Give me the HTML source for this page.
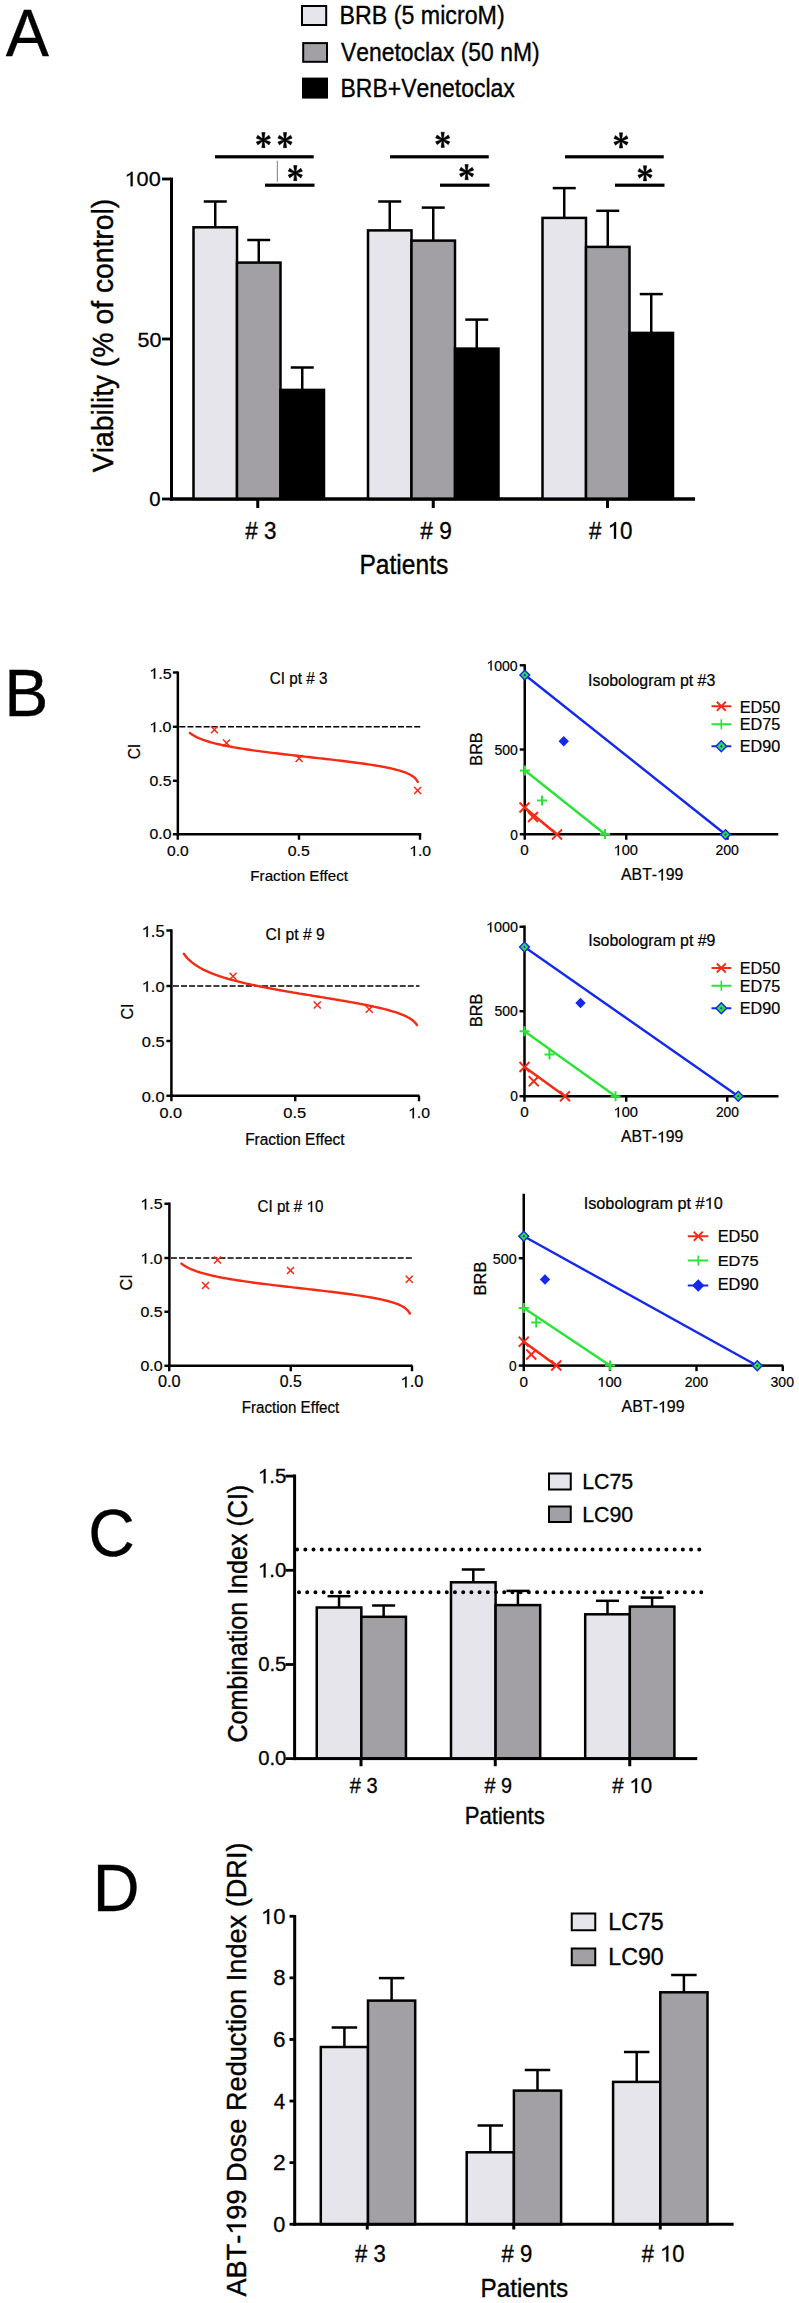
<!DOCTYPE html>
<html><head><meta charset="utf-8"><style>html,body{margin:0;padding:0;background:#fff;width:799px;height:2303px;overflow:hidden}svg{display:block}text{font-family:"Liberation Sans",sans-serif;font-kerning:none;font-feature-settings:"kern" 0;white-space:pre;paint-order:stroke}</style></head><body>
<svg width="799" height="2303" viewBox="0 0 799 2303">
<rect width="799" height="2303" fill="#fff"/>
<text transform="translate(5.77 55.85) scale(0.9594 1)" font-size="67.516" fill="#000" stroke="#000" stroke-width="0.300">A</text>
<rect x="302" y="6" width="24.2" height="19" fill="#E7E5EC" stroke="#000" stroke-width="2"/>
<rect x="303.2" y="43.1" width="23.8" height="18.7" fill="#A2A0A5" stroke="#000" stroke-width="2"/>
<rect x="303" y="78.6" width="24" height="19" fill="#000" stroke="#000" stroke-width="2"/>
<text transform="translate(339.57 23.92) scale(0.9216 1)" font-size="25.204" fill="#000" stroke="#000" stroke-width="0.353">BRB (5 microM)</text>
<text transform="translate(341.03 60.82) scale(0.9140 1)" font-size="25.061" fill="#000" stroke="#000" stroke-width="0.351">Venetoclax (50 nM)</text>
<text transform="translate(340.49 96.82) scale(0.9118 1)" font-size="25.204" fill="#000" stroke="#000" stroke-width="0.353">BRB+Venetoclax</text>
<rect x="170" y="177.6" width="3" height="322.9" fill="#000"/>
<rect x="170" y="497.5" width="525" height="3" fill="#000"/>
<rect x="162" y="177.6" width="9" height="2.8" fill="#000"/>
<rect x="162" y="337.6" width="9" height="2.8" fill="#000"/>
<rect x="162" y="497.6" width="9" height="2.8" fill="#000"/>
<rect x="256.25" y="499" width="3" height="9" fill="#000"/>
<rect x="431.75" y="499" width="3" height="9" fill="#000"/>
<rect x="606" y="499" width="3" height="9" fill="#000"/>
<path transform="translate(124.54 186.15) scale(1.0437 1) translate(0 0) scale(20.767 -20.767)" d="M.373 0L.373 .688L.315 .688C.29 .63 .2 .585 .109 .541L.109 .459C.17 .49 .24 .525 .283 .568L.283 0Z" fill="#000" stroke="#000" stroke-width="0.0140"/>
<text transform="translate(124.54 186.15) scale(1.0437 1)" font-size="20.767" fill="#000" stroke="#000" stroke-width="0.291"> 00</text>
<text transform="translate(137.59 346.85) scale(1.0348 1)" font-size="20.767" fill="#000" stroke="#000" stroke-width="0.291">50</text>
<text transform="translate(149.35 505.91) scale(1.0122 1)" font-size="20.075" fill="#000" stroke="#000" stroke-width="0.281">0</text>
<text transform="translate(245.37 538.69) scale(0.9245 1)" font-size="24.228" fill="#000" stroke="#000" stroke-width="0.339"># 3</text>
<text transform="translate(420.37 538.69) scale(0.9361 1)" font-size="24.228" fill="#000" stroke="#000" stroke-width="0.339"># 9</text>
<path transform="translate(588.97 538.69) scale(0.9252 1) translate(20.21 0) scale(24.228 -24.228)" d="M.373 0L.373 .688L.315 .688C.29 .63 .2 .585 .109 .541L.109 .459C.17 .49 .24 .525 .283 .568L.283 0Z" fill="#000" stroke="#000" stroke-width="0.0140"/>
<text transform="translate(588.97 538.69) scale(0.9252 1)" font-size="24.228" fill="#000" stroke="#000" stroke-width="0.339">#  0</text>
<text transform="translate(359.47 574.21) scale(0.9183 1)" font-size="26.770" fill="#000" stroke="#000" stroke-width="0.375">Patients</text>
<text transform="translate(113 472.17) rotate(-90) scale(0.9621 1)" font-size="29.395" fill="#000" stroke="#000" stroke-width="0.400">Viability (% of control)</text>
<line x1="215.25" y1="227.3" x2="215.25" y2="201.5" stroke="#000" stroke-width="2.5"/>
<line x1="203.75" y1="201.5" x2="226.75" y2="201.5" stroke="#000" stroke-width="2.5"/>
<line x1="258.75" y1="262.6" x2="258.75" y2="240" stroke="#000" stroke-width="2.5"/>
<line x1="247.25" y1="240" x2="270.25" y2="240" stroke="#000" stroke-width="2.5"/>
<line x1="302.25" y1="389.9" x2="302.25" y2="367.5" stroke="#000" stroke-width="2.5"/>
<line x1="290.75" y1="367.5" x2="313.75" y2="367.5" stroke="#000" stroke-width="2.5"/>
<rect x="193.5" y="227.3" width="43.5" height="271.7" fill="#E7E5EC" stroke="#000" stroke-width="2.5"/>
<rect x="237" y="262.6" width="43.5" height="236.4" fill="#A2A0A5" stroke="#000" stroke-width="2.5"/>
<rect x="280.5" y="389.9" width="43.5" height="109.1" fill="#000" stroke="#000" stroke-width="2.5"/>
<line x1="389.75" y1="230.4" x2="389.75" y2="201.5" stroke="#000" stroke-width="2.5"/>
<line x1="378.25" y1="201.5" x2="401.25" y2="201.5" stroke="#000" stroke-width="2.5"/>
<line x1="433.25" y1="240.6" x2="433.25" y2="207.6" stroke="#000" stroke-width="2.5"/>
<line x1="421.75" y1="207.6" x2="444.75" y2="207.6" stroke="#000" stroke-width="2.5"/>
<line x1="476.75" y1="348.6" x2="476.75" y2="319.6" stroke="#000" stroke-width="2.5"/>
<line x1="465.25" y1="319.6" x2="488.25" y2="319.6" stroke="#000" stroke-width="2.5"/>
<rect x="368" y="230.4" width="43.5" height="268.6" fill="#E7E5EC" stroke="#000" stroke-width="2.5"/>
<rect x="411.5" y="240.6" width="43.5" height="258.4" fill="#A2A0A5" stroke="#000" stroke-width="2.5"/>
<rect x="455" y="348.6" width="43.5" height="150.4" fill="#000" stroke="#000" stroke-width="2.5"/>
<line x1="564.25" y1="217.9" x2="564.25" y2="188.1" stroke="#000" stroke-width="2.5"/>
<line x1="552.75" y1="188.1" x2="575.75" y2="188.1" stroke="#000" stroke-width="2.5"/>
<line x1="607.75" y1="246.9" x2="607.75" y2="210.8" stroke="#000" stroke-width="2.5"/>
<line x1="596.25" y1="210.8" x2="619.25" y2="210.8" stroke="#000" stroke-width="2.5"/>
<line x1="651.25" y1="332.9" x2="651.25" y2="294.1" stroke="#000" stroke-width="2.5"/>
<line x1="639.75" y1="294.1" x2="662.75" y2="294.1" stroke="#000" stroke-width="2.5"/>
<rect x="542.5" y="217.9" width="43.5" height="281.1" fill="#E7E5EC" stroke="#000" stroke-width="2.5"/>
<rect x="586" y="246.9" width="43.5" height="252.1" fill="#A2A0A5" stroke="#000" stroke-width="2.5"/>
<rect x="629.5" y="332.9" width="43.5" height="166.1" fill="#000" stroke="#000" stroke-width="2.5"/>
<rect x="170" y="497.5" width="525" height="3" fill="#000"/>
<rect x="215" y="155.2" width="98.75" height="3.2" fill="#000"/>
<rect x="265" y="183.6" width="49.5" height="3.2" fill="#000"/>
<rect x="390" y="155.2" width="98.75" height="3.2" fill="#000"/>
<rect x="440" y="183.6" width="49.5" height="3.2" fill="#000"/>
<rect x="565" y="155.2" width="98.75" height="3.2" fill="#000"/>
<rect x="615" y="183.6" width="49.5" height="3.2" fill="#000"/>
<rect x="276.8" y="160.7" width="1.1" height="21" fill="#8a8a8a"/>
<path d="M263.95 140.10 L265.05 132.50 L261.75 132.50 L262.85 140.10ZM262.85 140.10 L261.75 147.70 L265.05 147.70 L263.95 140.10ZM263.66 140.59 L270.53 138.18 L268.98 135.26 L263.14 139.61ZM263.14 140.59 L268.98 144.94 L270.53 142.02 L263.66 139.61ZM263.66 139.61 L257.82 135.26 L256.27 138.18 L263.14 140.59ZM263.14 139.61 L256.27 142.02 L257.82 144.94 L263.66 140.59Z" stroke="#000" stroke-width="0.5" fill="#000" stroke-linejoin="round"/>
<path d="M285.55 140.10 L286.65 132.50 L283.35 132.50 L284.45 140.10ZM284.45 140.10 L283.35 147.70 L286.65 147.70 L285.55 140.10ZM285.26 140.59 L292.13 138.18 L290.58 135.26 L284.74 139.61ZM284.74 140.59 L290.58 144.94 L292.13 142.02 L285.26 139.61ZM285.26 139.61 L279.42 135.26 L277.87 138.18 L284.74 140.59ZM284.74 139.61 L277.87 142.02 L279.42 144.94 L285.26 140.59Z" stroke="#000" stroke-width="0.5" fill="#000" stroke-linejoin="round"/>
<path d="M295.85 173.10 L296.95 165.50 L293.65 165.50 L294.75 173.10ZM294.75 173.10 L293.65 180.70 L296.95 180.70 L295.85 173.10ZM295.56 173.59 L302.43 171.18 L300.88 168.26 L295.04 172.61ZM295.04 173.59 L300.88 177.94 L302.43 175.02 L295.56 172.61ZM295.56 172.61 L289.72 168.26 L288.17 171.18 L295.04 173.59ZM295.04 172.61 L288.17 175.02 L289.72 177.94 L295.56 173.59Z" stroke="#000" stroke-width="0.5" fill="#000" stroke-linejoin="round"/>
<path d="M443.25 139.80 L444.35 132.20 L441.05 132.20 L442.15 139.80ZM442.15 139.80 L441.05 147.40 L444.35 147.40 L443.25 139.80ZM442.96 140.29 L449.83 137.88 L448.28 134.96 L442.44 139.31ZM442.44 140.29 L448.28 144.64 L449.83 141.72 L442.96 139.31ZM442.96 139.31 L437.12 134.96 L435.57 137.88 L442.44 140.29ZM442.44 139.31 L435.57 141.72 L437.12 144.64 L442.96 140.29Z" stroke="#000" stroke-width="0.5" fill="#000" stroke-linejoin="round"/>
<path d="M467.15 172.10 L468.25 164.50 L464.95 164.50 L466.05 172.10ZM466.05 172.10 L464.95 179.70 L468.25 179.70 L467.15 172.10ZM466.86 172.59 L473.73 170.18 L472.18 167.26 L466.34 171.61ZM466.34 172.59 L472.18 176.94 L473.73 174.02 L466.86 171.61ZM466.86 171.61 L461.02 167.26 L459.47 170.18 L466.34 172.59ZM466.34 171.61 L459.47 174.02 L461.02 176.94 L466.86 172.59Z" stroke="#000" stroke-width="0.5" fill="#000" stroke-linejoin="round"/>
<path d="M621.55 140.40 L622.65 132.80 L619.35 132.80 L620.45 140.40ZM620.45 140.40 L619.35 148.00 L622.65 148.00 L621.55 140.40ZM621.26 140.89 L628.13 138.48 L626.58 135.56 L620.74 139.91ZM620.74 140.89 L626.58 145.24 L628.13 142.32 L621.26 139.91ZM621.26 139.91 L615.42 135.56 L613.87 138.48 L620.74 140.89ZM620.74 139.91 L613.87 142.32 L615.42 145.24 L621.26 140.89Z" stroke="#000" stroke-width="0.5" fill="#000" stroke-linejoin="round"/>
<path d="M645.55 173.30 L646.65 165.70 L643.35 165.70 L644.45 173.30ZM644.45 173.30 L643.35 180.90 L646.65 180.90 L645.55 173.30ZM645.26 173.79 L652.13 171.38 L650.58 168.46 L644.74 172.81ZM644.74 173.79 L650.58 178.14 L652.13 175.22 L645.26 172.81ZM645.26 172.81 L639.42 168.46 L637.87 171.38 L644.74 173.79ZM644.74 172.81 L637.87 175.22 L639.42 178.14 L645.26 173.79Z" stroke="#000" stroke-width="0.5" fill="#000" stroke-linejoin="round"/>
<text transform="translate(4.22 715.75) scale(0.9913 1)" font-size="66.716" fill="#000" stroke="#000" stroke-width="0.300">B</text>
<rect x="176.6" y="671.5" width="2.5" height="164" fill="#000"/>
<rect x="176.6" y="833" width="244.65" height="2.5" fill="#000"/>
<rect x="172.85" y="671.3" width="5" height="2.4" fill="#000"/>
<rect x="172.85" y="725.55" width="5" height="2.4" fill="#000"/>
<rect x="172.85" y="779.55" width="5" height="2.4" fill="#000"/>
<rect x="172.85" y="833.05" width="5" height="2.4" fill="#000"/>
<rect x="176.55" y="834.25" width="2.4" height="5.5" fill="#000"/>
<rect x="297.8" y="834.25" width="2.4" height="5.5" fill="#000"/>
<rect x="418.8" y="834.25" width="2.4" height="5.5" fill="#000"/>
<line x1="179.35" y1="726.75" x2="421.25" y2="726.75" stroke="#000" stroke-width="1.7" stroke-dasharray="6 2.1"/>
<path d="M189.88 733.03 L191.79 734.39 L193.71 735.57 L195.62 736.62 L197.54 737.55 L199.45 738.40 L201.37 739.18 L203.28 739.90 L205.20 740.56 L207.11 741.18 L209.03 741.77 L210.95 742.32 L212.86 742.84 L214.78 743.34 L216.69 743.81 L218.61 744.27 L220.52 744.70 L222.44 745.12 L224.35 745.52 L226.27 745.90 L228.19 746.28 L230.10 746.64 L232.02 746.99 L233.93 747.33 L235.85 747.67 L237.76 747.99 L239.68 748.30 L241.59 748.61 L243.51 748.91 L245.43 749.21 L247.34 749.50 L249.26 749.78 L251.17 750.06 L253.09 750.33 L255.00 750.60 L256.92 750.86 L258.83 751.12 L260.75 751.38 L262.67 751.63 L264.58 751.88 L266.50 752.12 L268.41 752.36 L270.33 752.60 L272.24 752.84 L274.16 753.08 L276.07 753.31 L277.99 753.54 L279.91 753.77 L281.82 753.99 L283.74 754.22 L285.65 754.44 L287.57 754.66 L289.48 754.89 L291.40 755.10 L293.31 755.32 L295.23 755.54 L297.15 755.76 L299.06 755.97 L300.98 756.19 L302.89 756.40 L304.81 756.62 L306.72 756.83 L308.64 757.05 L310.55 757.26 L312.47 757.48 L314.39 757.69 L316.30 757.91 L318.22 758.12 L320.13 758.34 L322.05 758.55 L323.96 758.77 L325.88 758.99 L327.79 759.21 L329.71 759.43 L331.63 759.65 L333.54 759.87 L335.46 760.09 L337.37 760.32 L339.29 760.55 L341.20 760.78 L343.12 761.01 L345.03 761.24 L346.95 761.48 L348.87 761.72 L350.78 761.96 L352.70 762.21 L354.61 762.45 L356.53 762.71 L358.44 762.96 L360.36 763.22 L362.27 763.49 L364.19 763.76 L366.11 764.04 L368.02 764.32 L369.94 764.61 L371.85 764.90 L373.77 765.21 L375.68 765.52 L377.60 765.84 L379.51 766.17 L381.43 766.51 L383.35 766.86 L385.26 767.23 L387.18 767.61 L389.09 768.01 L391.01 768.43 L392.92 768.87 L394.84 769.33 L396.75 769.82 L398.67 770.35 L400.59 770.91 L402.50 771.52 L404.42 772.19 L406.33 772.93 L408.25 773.76 L410.16 774.72 L412.08 775.84 L413.99 777.23 L415.91 779.06 L417.82 781.83" stroke="#F52A14" stroke-width="2.4" fill="none" stroke-linecap="round" stroke-linejoin="round"/>
<path d="M210.9 726.25 L217.9 733.25 M210.9 733.25 L217.9 726.25" stroke="#F52A14" stroke-width="1.5" fill="none"/>
<path d="M223 739.5 L230 746.5 M223 746.5 L230 739.5" stroke="#F52A14" stroke-width="1.5" fill="none"/>
<path d="M295.6 755 L302.6 762 M295.6 762 L302.6 755" stroke="#F52A14" stroke-width="1.5" fill="none"/>
<path d="M414.1 787 L421.1 794 M414.1 794 L421.1 787" stroke="#F52A14" stroke-width="1.5" fill="none"/>
<text transform="translate(269.84 683.58) scale(0.9308 1)" font-size="16.375" fill="#000" stroke="#000" stroke-width="0.229">CI pt # 3</text>
<path transform="translate(149.26 678.65) scale(1.0679 1) translate(0 0) scale(15.027 -15.027)" d="M.373 0L.373 .688L.315 .688C.29 .63 .2 .585 .109 .541L.109 .459C.17 .49 .24 .525 .283 .568L.283 0Z" fill="#000" stroke="#000" stroke-width="0.0140"/>
<text transform="translate(149.26 678.65) scale(1.0679 1)" font-size="15.027" fill="#000" stroke="#000" stroke-width="0.210"> .5</text>
<path transform="translate(149.26 732.15) scale(1.1017 1) translate(0 0) scale(14.537 -14.537)" d="M.373 0L.373 .688L.315 .688C.29 .63 .2 .585 .109 .541L.109 .459C.17 .49 .24 .525 .283 .568L.283 0Z" fill="#000" stroke="#000" stroke-width="0.0140"/>
<text transform="translate(149.26 732.15) scale(1.1017 1)" font-size="14.537" fill="#000" stroke="#000" stroke-width="0.204"> .0</text>
<text transform="translate(149.59 786.35) scale(1.0668 1)" font-size="14.814" fill="#000" stroke="#000" stroke-width="0.207">0.5</text>
<text transform="translate(149.59 839.36) scale(1.0954 1)" font-size="14.399" fill="#000" stroke="#000" stroke-width="0.202">0.0</text>
<text transform="translate(166.99 856) scale(1.0770 1)" font-size="14.537" fill="#000" stroke="#000" stroke-width="0.204">0.0</text>
<text transform="translate(287.73 856) scale(1.0926 1)" font-size="14.537" fill="#000" stroke="#000" stroke-width="0.204">0.5</text>
<path transform="translate(409.14 856) scale(1.0823 1) translate(0 0) scale(14.537 -14.537)" d="M.373 0L.373 .688L.315 .688C.29 .63 .2 .585 .109 .541L.109 .459C.17 .49 .24 .525 .283 .568L.283 0Z" fill="#000" stroke="#000" stroke-width="0.0140"/>
<text transform="translate(409.14 856) scale(1.0823 1)" font-size="14.537" fill="#000" stroke="#000" stroke-width="0.204"> .0</text>
<text transform="translate(250.36 880.79) scale(1.0140 1)" font-size="14.951" fill="#000" stroke="#000" stroke-width="0.209">Fraction Effect</text>
<text transform="translate(140.41 759.37) rotate(-90) scale(0.9078 1)" font-size="17.168" fill="#000" stroke="#000" stroke-width="0.240">CI</text>
<rect x="170.15" y="929.3" width="2.5" height="167.7" fill="#000"/>
<rect x="170.15" y="1094.5" width="249.35" height="2.5" fill="#000"/>
<rect x="166.4" y="929.3" width="5" height="2.4" fill="#000"/>
<rect x="166.4" y="984.8" width="5" height="2.4" fill="#000"/>
<rect x="166.4" y="1039.8" width="5" height="2.4" fill="#000"/>
<rect x="166.4" y="1094.55" width="5" height="2.4" fill="#000"/>
<rect x="170.2" y="1095.75" width="2.4" height="5.5" fill="#000"/>
<rect x="294.05" y="1095.75" width="2.4" height="5.5" fill="#000"/>
<rect x="417.8" y="1095.75" width="2.4" height="5.5" fill="#000"/>
<line x1="172.9" y1="986" x2="419.5" y2="986" stroke="#000" stroke-width="1.7" stroke-dasharray="6 2.1"/>
<path d="M183.81 953.83 L185.76 956.35 L187.72 958.52 L189.68 960.42 L191.64 962.11 L193.60 963.63 L195.56 965.02 L197.52 966.30 L199.48 967.47 L201.44 968.57 L203.40 969.59 L205.36 970.55 L207.32 971.46 L209.28 972.32 L211.24 973.13 L213.20 973.91 L215.16 974.65 L217.12 975.36 L219.08 976.04 L221.04 976.69 L223.00 977.32 L224.96 977.93 L226.92 978.52 L228.88 979.09 L230.84 979.64 L232.80 980.18 L234.76 980.70 L236.72 981.21 L238.68 981.70 L240.64 982.19 L242.60 982.66 L244.56 983.12 L246.52 983.57 L248.48 984.01 L250.44 984.45 L252.40 984.87 L254.36 985.29 L256.32 985.70 L258.28 986.11 L260.24 986.50 L262.20 986.89 L264.16 987.28 L266.12 987.66 L268.08 988.04 L270.04 988.41 L272.00 988.77 L273.95 989.14 L275.91 989.49 L277.87 989.85 L279.83 990.20 L281.79 990.55 L283.75 990.89 L285.71 991.23 L287.67 991.57 L289.63 991.91 L291.59 992.25 L293.55 992.58 L295.51 992.91 L297.47 993.24 L299.43 993.57 L301.39 993.89 L303.35 994.22 L305.31 994.54 L307.27 994.86 L309.23 995.19 L311.19 995.51 L313.15 995.83 L315.11 996.15 L317.07 996.47 L319.03 996.79 L320.99 997.11 L322.95 997.44 L324.91 997.76 L326.87 998.08 L328.83 998.40 L330.79 998.73 L332.75 999.05 L334.71 999.38 L336.67 999.71 L338.63 1000.04 L340.59 1000.38 L342.55 1000.71 L344.51 1001.05 L346.47 1001.39 L348.43 1001.73 L350.39 1002.08 L352.35 1002.43 L354.31 1002.79 L356.27 1003.15 L358.23 1003.51 L360.19 1003.88 L362.15 1004.26 L364.10 1004.64 L366.06 1005.02 L368.02 1005.42 L369.98 1005.82 L371.94 1006.23 L373.90 1006.65 L375.86 1007.08 L377.82 1007.52 L379.78 1007.97 L381.74 1008.44 L383.70 1008.92 L385.66 1009.42 L387.62 1009.93 L389.58 1010.47 L391.54 1011.03 L393.50 1011.61 L395.46 1012.23 L397.42 1012.88 L399.38 1013.57 L401.34 1014.31 L403.30 1015.11 L405.26 1015.97 L407.22 1016.93 L409.18 1018.01 L411.14 1019.25 L413.10 1020.71 L415.06 1022.56 L417.02 1025.13" stroke="#F52A14" stroke-width="2.4" fill="none" stroke-linecap="round" stroke-linejoin="round"/>
<path d="M229.5 972.75 L236.5 979.75 M229.5 979.75 L236.5 972.75" stroke="#F52A14" stroke-width="1.5" fill="none"/>
<path d="M313.75 1001.5 L320.75 1008.5 M313.75 1008.5 L320.75 1001.5" stroke="#F52A14" stroke-width="1.5" fill="none"/>
<path d="M365.75 1005.75 L372.75 1012.75 M365.75 1012.75 L372.75 1005.75" stroke="#F52A14" stroke-width="1.5" fill="none"/>
<text transform="translate(265.52 939.88) scale(0.9649 1)" font-size="16.233" fill="#000" stroke="#000" stroke-width="0.227">CI pt # 9</text>
<path transform="translate(141.72 937.04) scale(1.0549 1) translate(0 0) scale(15.589 -15.589)" d="M.373 0L.373 .688L.315 .688C.29 .63 .2 .585 .109 .541L.109 .459C.17 .49 .24 .525 .283 .568L.283 0Z" fill="#000" stroke="#000" stroke-width="0.0140"/>
<text transform="translate(141.72 937.04) scale(1.0549 1)" font-size="15.589" fill="#000" stroke="#000" stroke-width="0.218"> .5</text>
<path transform="translate(141.72 991.74) scale(1.0677 1) translate(0 0) scale(15.368 -15.368)" d="M.373 0L.373 .688L.315 .688C.29 .63 .2 .585 .109 .541L.109 .459C.17 .49 .24 .525 .283 .568L.283 0Z" fill="#000" stroke="#000" stroke-width="0.0140"/>
<text transform="translate(141.72 991.74) scale(1.0677 1)" font-size="15.368" fill="#000" stroke="#000" stroke-width="0.215"> .0</text>
<text transform="translate(141.77 1046.84) scale(1.0677 1)" font-size="15.368" fill="#000" stroke="#000" stroke-width="0.215">0.5</text>
<text transform="translate(141.77 1102.44) scale(1.0654 1)" font-size="15.368" fill="#000" stroke="#000" stroke-width="0.215">0.0</text>
<text transform="translate(159.47 1118.24) scale(1.0604 1)" font-size="15.368" fill="#000" stroke="#000" stroke-width="0.215">0.0</text>
<text transform="translate(283.37 1118.24) scale(1.0727 1)" font-size="15.368" fill="#000" stroke="#000" stroke-width="0.215">0.5</text>
<path transform="translate(408.09 1118.24) scale(1.0258 1) translate(0 0) scale(15.368 -15.368)" d="M.373 0L.373 .688L.315 .688C.29 .63 .2 .585 .109 .541L.109 .459C.17 .49 .24 .525 .283 .568L.283 0Z" fill="#000" stroke="#000" stroke-width="0.0140"/>
<text transform="translate(408.09 1118.24) scale(1.0258 1)" font-size="15.368" fill="#000" stroke="#000" stroke-width="0.215"> .0</text>
<text transform="translate(245.15 1144.69) scale(0.9587 1)" font-size="16.090" fill="#000" stroke="#000" stroke-width="0.225">Fraction Effect</text>
<text transform="translate(132.72 1019.39) rotate(-90) scale(0.9597 1)" font-size="16.614" fill="#000" stroke="#000" stroke-width="0.233">CI</text>
<rect x="168.15" y="1202.5" width="2.5" height="164.5" fill="#000"/>
<rect x="168.15" y="1364.5" width="244.35" height="2.5" fill="#000"/>
<rect x="164.4" y="1202.55" width="5" height="2.4" fill="#000"/>
<rect x="164.4" y="1256.8" width="5" height="2.4" fill="#000"/>
<rect x="164.4" y="1310.55" width="5" height="2.4" fill="#000"/>
<rect x="164.4" y="1364.55" width="5" height="2.4" fill="#000"/>
<rect x="168.05" y="1365.75" width="2.4" height="5.5" fill="#000"/>
<rect x="289.55" y="1365.75" width="2.4" height="5.5" fill="#000"/>
<rect x="410.8" y="1365.75" width="2.4" height="5.5" fill="#000"/>
<line x1="170.9" y1="1258" x2="412.5" y2="1258" stroke="#000" stroke-width="1.7" stroke-dasharray="6 2.1"/>
<path d="M181.40 1263.63 L183.32 1265.02 L185.24 1266.24 L187.16 1267.31 L189.08 1268.27 L191.00 1269.14 L192.92 1269.94 L194.84 1270.67 L196.76 1271.36 L198.68 1272.00 L200.59 1272.59 L202.51 1273.16 L204.43 1273.70 L206.35 1274.20 L208.27 1274.69 L210.19 1275.15 L212.11 1275.60 L214.03 1276.03 L215.95 1276.44 L217.87 1276.83 L219.79 1277.22 L221.71 1277.59 L223.63 1277.95 L225.55 1278.30 L227.47 1278.64 L229.39 1278.97 L231.31 1279.29 L233.23 1279.61 L235.15 1279.92 L237.07 1280.22 L238.98 1280.51 L240.90 1280.80 L242.82 1281.09 L244.74 1281.36 L246.66 1281.64 L248.58 1281.91 L250.50 1282.17 L252.42 1282.44 L254.34 1282.69 L256.26 1282.95 L258.18 1283.20 L260.10 1283.45 L262.02 1283.69 L263.94 1283.94 L265.86 1284.18 L267.78 1284.41 L269.70 1284.65 L271.62 1284.88 L273.54 1285.12 L275.46 1285.35 L277.37 1285.57 L279.29 1285.80 L281.21 1286.03 L283.13 1286.25 L285.05 1286.47 L286.97 1286.70 L288.89 1286.92 L290.81 1287.14 L292.73 1287.36 L294.65 1287.58 L296.57 1287.80 L298.49 1288.02 L300.41 1288.24 L302.33 1288.46 L304.25 1288.68 L306.17 1288.90 L308.09 1289.11 L310.01 1289.33 L311.93 1289.55 L313.85 1289.78 L315.76 1290.00 L317.68 1290.22 L319.60 1290.44 L321.52 1290.67 L323.44 1290.89 L325.36 1291.12 L327.28 1291.35 L329.20 1291.58 L331.12 1291.81 L333.04 1292.05 L334.96 1292.28 L336.88 1292.52 L338.80 1292.76 L340.72 1293.01 L342.64 1293.26 L344.56 1293.51 L346.48 1293.76 L348.40 1294.02 L350.32 1294.28 L352.24 1294.55 L354.15 1294.82 L356.07 1295.09 L357.99 1295.38 L359.91 1295.66 L361.83 1295.96 L363.75 1296.26 L365.67 1296.57 L367.59 1296.89 L369.51 1297.21 L371.43 1297.55 L373.35 1297.90 L375.27 1298.26 L377.19 1298.63 L379.11 1299.02 L381.03 1299.43 L382.95 1299.85 L384.87 1300.30 L386.79 1300.77 L388.71 1301.28 L390.63 1301.81 L392.54 1302.39 L394.46 1303.01 L396.38 1303.69 L398.30 1304.44 L400.22 1305.29 L402.14 1306.26 L404.06 1307.40 L405.98 1308.81 L407.90 1310.67 L409.82 1313.48" stroke="#F52A14" stroke-width="2.4" fill="none" stroke-linecap="round" stroke-linejoin="round"/>
<path d="M202 1282 L209 1289 M202 1289 L209 1282" stroke="#F52A14" stroke-width="1.5" fill="none"/>
<path d="M214 1256.5 L221 1263.5 M214 1263.5 L221 1256.5" stroke="#F52A14" stroke-width="1.5" fill="none"/>
<path d="M287 1267 L294 1274 M287 1274 L294 1267" stroke="#F52A14" stroke-width="1.5" fill="none"/>
<path d="M405.75 1275.75 L412.75 1282.75 M405.75 1282.75 L412.75 1275.75" stroke="#F52A14" stroke-width="1.5" fill="none"/>
<path transform="translate(257.54 1212.09) scale(0.9607 1) translate(50.95 0) scale(15.806 -15.806)" d="M.373 0L.373 .688L.315 .688C.29 .63 .2 .585 .109 .541L.109 .459C.17 .49 .24 .525 .283 .568L.283 0Z" fill="#000" stroke="#000" stroke-width="0.0140"/>
<text transform="translate(257.54 1212.09) scale(0.9607 1)" font-size="15.806" fill="#000" stroke="#000" stroke-width="0.221">CI pt #  0</text>
<path transform="translate(140.26 1209.44) scale(1.0385 1) translate(0 0) scale(15.448 -15.448)" d="M.373 0L.373 .688L.315 .688C.29 .63 .2 .585 .109 .541L.109 .459C.17 .49 .24 .525 .283 .568L.283 0Z" fill="#000" stroke="#000" stroke-width="0.0140"/>
<text transform="translate(140.26 1209.44) scale(1.0385 1)" font-size="15.448" fill="#000" stroke="#000" stroke-width="0.216"> .5</text>
<path transform="translate(140.26 1263.54) scale(1.0608 1) translate(0 0) scale(15.091 -15.091)" d="M.373 0L.373 .688L.315 .688C.29 .63 .2 .585 .109 .541L.109 .459C.17 .49 .24 .525 .283 .568L.283 0Z" fill="#000" stroke="#000" stroke-width="0.0140"/>
<text transform="translate(140.26 1263.54) scale(1.0608 1)" font-size="15.091" fill="#000" stroke="#000" stroke-width="0.211"> .0</text>
<text transform="translate(140.39 1317.24) scale(1.0379 1)" font-size="15.368" fill="#000" stroke="#000" stroke-width="0.215">0.5</text>
<text transform="translate(140.38 1370.75) scale(1.0647 1)" font-size="14.952" fill="#000" stroke="#000" stroke-width="0.209">0.0</text>
<text transform="translate(157.88 1387.43) scale(1.0322 1)" font-size="15.783" fill="#000" stroke="#000" stroke-width="0.221">0.0</text>
<text transform="translate(279.69 1387.43) scale(1.0055 1)" font-size="15.783" fill="#000" stroke="#000" stroke-width="0.221">0.5</text>
<path transform="translate(400.52 1387.43) scale(1.0393 1) translate(0 0) scale(15.783 -15.783)" d="M.373 0L.373 .688L.315 .688C.29 .63 .2 .585 .109 .541L.109 .459C.17 .49 .24 .525 .283 .568L.283 0Z" fill="#000" stroke="#000" stroke-width="0.0140"/>
<text transform="translate(400.52 1387.43) scale(1.0393 1)" font-size="15.783" fill="#000" stroke="#000" stroke-width="0.221"> .0</text>
<text transform="translate(241.78 1412.68) scale(0.9319 1)" font-size="16.233" fill="#000" stroke="#000" stroke-width="0.227">Fraction Effect</text>
<text transform="translate(131.81 1290.5) rotate(-90) scale(0.9575 1)" font-size="16.891" fill="#000" stroke="#000" stroke-width="0.236">CI</text>
<rect x="523.5" y="664.3" width="2.5" height="171.2" fill="#000"/>
<rect x="523.5" y="833" width="254.75" height="2.5" fill="#000"/>
<rect x="519.75" y="664.1" width="5" height="2.4" fill="#000"/>
<rect x="519.75" y="748.3" width="5" height="2.4" fill="#000"/>
<rect x="519.75" y="833.05" width="5" height="2.4" fill="#000"/>
<rect x="523.55" y="834.25" width="2.4" height="5.5" fill="#000"/>
<rect x="625.05" y="834.25" width="2.4" height="5.5" fill="#000"/>
<rect x="726.3" y="834.25" width="2.4" height="5.5" fill="#000"/>
<line x1="525" y1="675" x2="725.25" y2="834.25" stroke="#1428EE" stroke-width="2.4"/>
<line x1="525" y1="770.5" x2="605" y2="834.25" stroke="#2BE236" stroke-width="2.4"/>
<line x1="524.5" y1="807.5" x2="557" y2="834.5" stroke="#F52A14" stroke-width="2.6"/>
<path d="M519.5 802.5 L529.5 812.5 M519.5 812.5 L529.5 802.5" stroke="#F52A14" stroke-width="1.9" fill="none"/>
<path d="M528 812 L538 822 M528 822 L538 812" stroke="#F52A14" stroke-width="1.9" fill="none"/>
<path d="M552 829.5 L562 839.5 M552 839.5 L562 829.5" stroke="#F52A14" stroke-width="1.9" fill="none"/>
<path d="M520 770.5 L530 770.5 M525 765.5 L525 775.5" stroke="#2BE236" stroke-width="2" fill="none"/>
<path d="M537 800.5 L547 800.5 M542 795.5 L542 805.5" stroke="#2BE236" stroke-width="2" fill="none"/>
<path d="M600 834 L610 834 M605 829 L605 839" stroke="#2BE236" stroke-width="2" fill="none"/>
<path d="M524.8 669.2 L530.7 675.1 L524.8 681 L518.9 675.1Z" stroke="none" stroke-width="1" fill="#1428EE"/>
<path d="M524.8 671.2 L528.7 675.1 L524.8 679 L520.9 675.1Z" stroke="none" stroke-width="1" fill="#2BE236"/>
<path d="M524.8 673.8 L526.1 675.1 L524.8 676.4 L523.5 675.1Z" stroke="none" stroke-width="1" fill="#1428EE"/>
<path d="M725.5 828.7 L731.4 834.6 L725.5 840.5 L719.6 834.6Z" stroke="none" stroke-width="1" fill="#1428EE"/>
<path d="M725.5 830.7 L729.4 834.6 L725.5 838.5 L721.6 834.6Z" stroke="none" stroke-width="1" fill="#2BE236"/>
<path d="M725.5 833.3 L726.8 834.6 L725.5 835.9 L724.2 834.6Z" stroke="none" stroke-width="1" fill="#1428EE"/>
<path d="M563.75 736.05 L568.95 741.25 L563.75 746.45 L558.55 741.25Z" stroke="none" stroke-width="1" fill="#1428EE"/>
<text transform="translate(588.05 685.88) scale(0.9630 1)" font-size="16.518" fill="#000" stroke="#000" stroke-width="0.231">Isobologram pt #3</text>
<path transform="translate(486.48 670.55) scale(0.9637 1) translate(0 0) scale(14.537 -14.537)" d="M.373 0L.373 .688L.315 .688C.29 .63 .2 .585 .109 .541L.109 .459C.17 .49 .24 .525 .283 .568L.283 0Z" fill="#000" stroke="#000" stroke-width="0.0140"/>
<text transform="translate(486.48 670.55) scale(0.9637 1)" font-size="14.537" fill="#000" stroke="#000" stroke-width="0.204"> 000</text>
<text transform="translate(494.54 754.75) scale(0.9648 1)" font-size="14.537" fill="#000" stroke="#000" stroke-width="0.204">500</text>
<text transform="translate(510.32 839.75) scale(0.9415 1)" font-size="14.537" fill="#000" stroke="#000" stroke-width="0.204">0</text>
<text transform="translate(520.26 855.25) scale(1.0494 1)" font-size="14.537" fill="#000" stroke="#000" stroke-width="0.204">0</text>
<path transform="translate(613.51 855.25) scale(1.0086 1) translate(0 0) scale(14.537 -14.537)" d="M.373 0L.373 .688L.315 .688C.29 .63 .2 .585 .109 .541L.109 .459C.17 .49 .24 .525 .283 .568L.283 0Z" fill="#000" stroke="#000" stroke-width="0.0140"/>
<text transform="translate(613.51 855.25) scale(1.0086 1)" font-size="14.537" fill="#000" stroke="#000" stroke-width="0.204"> 00</text>
<text transform="translate(715.39 855.25) scale(0.9711 1)" font-size="14.537" fill="#000" stroke="#000" stroke-width="0.204">200</text>
<text transform="translate(481.88 765.71) rotate(-90) scale(0.9520 1)" font-size="17.087" fill="#000" stroke="#000" stroke-width="0.239">BRB</text>
<path transform="translate(621.09 880.38) scale(0.9434 1) translate(38.11 0) scale(16.731 -16.731)" d="M.373 0L.373 .688L.315 .688C.29 .63 .2 .585 .109 .541L.109 .459C.17 .49 .24 .525 .283 .568L.283 0Z" fill="#000" stroke="#000" stroke-width="0.0140"/>
<text transform="translate(621.09 880.38) scale(0.9434 1)" font-size="16.731" fill="#000" stroke="#000" stroke-width="0.234">ABT- 99</text>
<line x1="711.5" y1="706.25" x2="731.3" y2="706.25" stroke="#F52A14" stroke-width="2"/>
<path d="M716.8 701.75 L725.8 710.75 M716.8 710.75 L725.8 701.75" stroke="#F52A14" stroke-width="1.8" fill="none"/>
<line x1="711.5" y1="724.25" x2="731.3" y2="724.25" stroke="#2BE236" stroke-width="2"/>
<line x1="721.3" y1="719.25" x2="721.3" y2="729.25" stroke="#2BE236" stroke-width="1.6"/>
<line x1="711.5" y1="746.25" x2="731.3" y2="746.25" stroke="#1428EE" stroke-width="2"/>
<path d="M721.3 739.85 L727.7 746.25 L721.3 752.65 L714.9 746.25Z" stroke="none" stroke-width="1" fill="#1428EE"/>
<path d="M721.3 741.85 L725.7 746.25 L721.3 750.65 L716.9 746.25Z" stroke="none" stroke-width="1" fill="#2BE236"/>
<path d="M721.3 744.95 L722.6 746.25 L721.3 747.55 L720 746.25Z" stroke="none" stroke-width="1" fill="#1428EE"/>
<text transform="translate(739.78 712.69) scale(1.0346 1)" font-size="15.663" fill="#000" stroke="#000" stroke-width="0.219">ED50</text>
<text transform="translate(739.78 730.19) scale(1.0359 1)" font-size="15.663" fill="#000" stroke="#000" stroke-width="0.219">ED75</text>
<text transform="translate(739.78 752.09) scale(1.0346 1)" font-size="15.663" fill="#000" stroke="#000" stroke-width="0.219">ED90</text>
<rect x="523.25" y="925.5" width="2.5" height="172" fill="#000"/>
<rect x="523.25" y="1095" width="255.25" height="2.5" fill="#000"/>
<rect x="519.5" y="925.55" width="5" height="2.4" fill="#000"/>
<rect x="519.5" y="1010.05" width="5" height="2.4" fill="#000"/>
<rect x="519.5" y="1095.05" width="5" height="2.4" fill="#000"/>
<rect x="523.3" y="1096.25" width="2.4" height="5.5" fill="#000"/>
<rect x="625.05" y="1096.25" width="2.4" height="5.5" fill="#000"/>
<rect x="726.05" y="1096.25" width="2.4" height="5.5" fill="#000"/>
<line x1="524.5" y1="947" x2="738.25" y2="1096.25" stroke="#1428EE" stroke-width="2.4"/>
<line x1="524.5" y1="1031.25" x2="615.5" y2="1096.25" stroke="#2BE236" stroke-width="2.4"/>
<line x1="524.5" y1="1067" x2="565" y2="1096.25" stroke="#F52A14" stroke-width="2.6"/>
<path d="M519.5 1062 L529.5 1072 M519.5 1072 L529.5 1062" stroke="#F52A14" stroke-width="1.9" fill="none"/>
<path d="M528.75 1076.25 L538.75 1086.25 M528.75 1086.25 L538.75 1076.25" stroke="#F52A14" stroke-width="1.9" fill="none"/>
<path d="M560 1091.25 L570 1101.25 M560 1101.25 L570 1091.25" stroke="#F52A14" stroke-width="1.9" fill="none"/>
<path d="M519.5 1031.25 L529.5 1031.25 M524.5 1026.25 L524.5 1036.25" stroke="#2BE236" stroke-width="2" fill="none"/>
<path d="M544.5 1054.5 L554.5 1054.5 M549.5 1049.5 L549.5 1059.5" stroke="#2BE236" stroke-width="2" fill="none"/>
<path d="M610.5 1096.25 L620.5 1096.25 M615.5 1091.25 L615.5 1101.25" stroke="#2BE236" stroke-width="2" fill="none"/>
<path d="M524.5 941.1 L530.4 947 L524.5 952.9 L518.6 947Z" stroke="none" stroke-width="1" fill="#1428EE"/>
<path d="M524.5 943.1 L528.4 947 L524.5 950.9 L520.6 947Z" stroke="none" stroke-width="1" fill="#2BE236"/>
<path d="M524.5 945.7 L525.8 947 L524.5 948.3 L523.2 947Z" stroke="none" stroke-width="1" fill="#1428EE"/>
<path d="M738.25 1090.35 L744.15 1096.25 L738.25 1102.15 L732.35 1096.25Z" stroke="none" stroke-width="1" fill="#1428EE"/>
<path d="M738.25 1092.35 L742.15 1096.25 L738.25 1100.15 L734.35 1096.25Z" stroke="none" stroke-width="1" fill="#2BE236"/>
<path d="M738.25 1094.95 L739.55 1096.25 L738.25 1097.55 L736.95 1096.25Z" stroke="none" stroke-width="1" fill="#1428EE"/>
<path d="M580.5 997.8 L585.7 1003 L580.5 1008.2 L575.3 1003Z" stroke="none" stroke-width="1" fill="#1428EE"/>
<text transform="translate(588.25 945.69) scale(0.9971 1)" font-size="15.948" fill="#000" stroke="#000" stroke-width="0.223">Isobologram pt #9</text>
<path transform="translate(486.04 932.25) scale(0.9869 1) translate(0 0) scale(14.537 -14.537)" d="M.373 0L.373 .688L.315 .688C.29 .63 .2 .585 .109 .541L.109 .459C.17 .49 .24 .525 .283 .568L.283 0Z" fill="#000" stroke="#000" stroke-width="0.0140"/>
<text transform="translate(486.04 932.25) scale(0.9869 1)" font-size="14.537" fill="#000" stroke="#000" stroke-width="0.204"> 000</text>
<text transform="translate(494.54 1016.25) scale(0.9648 1)" font-size="14.537" fill="#000" stroke="#000" stroke-width="0.204">500</text>
<text transform="translate(510.31 1101.27) scale(0.9900 1)" font-size="13.845" fill="#000" stroke="#000" stroke-width="0.194">0</text>
<text transform="translate(520.26 1117.25) scale(1.0494 1)" font-size="14.537" fill="#000" stroke="#000" stroke-width="0.204">0</text>
<path transform="translate(613.51 1117.25) scale(1.0086 1) translate(0 0) scale(14.537 -14.537)" d="M.373 0L.373 .688L.315 .688C.29 .63 .2 .585 .109 .541L.109 .459C.17 .49 .24 .525 .283 .568L.283 0Z" fill="#000" stroke="#000" stroke-width="0.0140"/>
<text transform="translate(613.51 1117.25) scale(1.0086 1)" font-size="14.537" fill="#000" stroke="#000" stroke-width="0.204"> 00</text>
<text transform="translate(715.91 1117.25) scale(0.9493 1)" font-size="14.537" fill="#000" stroke="#000" stroke-width="0.204">200</text>
<text transform="translate(481.98 1027.11) rotate(-90) scale(0.9363 1)" font-size="17.372" fill="#000" stroke="#000" stroke-width="0.243">BRB</text>
<path transform="translate(621.08 1142.49) scale(0.9899 1) translate(36.33 0) scale(15.948 -15.948)" d="M.373 0L.373 .688L.315 .688C.29 .63 .2 .585 .109 .541L.109 .459C.17 .49 .24 .525 .283 .568L.283 0Z" fill="#000" stroke="#000" stroke-width="0.0140"/>
<text transform="translate(621.08 1142.49) scale(0.9899 1)" font-size="15.948" fill="#000" stroke="#000" stroke-width="0.223">ABT- 99</text>
<line x1="711.5" y1="968" x2="731.3" y2="968" stroke="#F52A14" stroke-width="2"/>
<path d="M716.8 963.5 L725.8 972.5 M716.8 972.5 L725.8 963.5" stroke="#F52A14" stroke-width="1.8" fill="none"/>
<line x1="711.5" y1="985.75" x2="731.3" y2="985.75" stroke="#2BE236" stroke-width="2"/>
<line x1="721.3" y1="980.75" x2="721.3" y2="990.75" stroke="#2BE236" stroke-width="1.6"/>
<line x1="711.5" y1="1008.25" x2="731.3" y2="1008.25" stroke="#1428EE" stroke-width="2"/>
<path d="M721.3 1001.85 L727.7 1008.25 L721.3 1014.65 L714.9 1008.25Z" stroke="none" stroke-width="1" fill="#1428EE"/>
<path d="M721.3 1003.85 L725.7 1008.25 L721.3 1012.65 L716.9 1008.25Z" stroke="none" stroke-width="1" fill="#2BE236"/>
<path d="M721.3 1006.95 L722.6 1008.25 L721.3 1009.55 L720 1008.25Z" stroke="none" stroke-width="1" fill="#1428EE"/>
<text transform="translate(739.78 973.69) scale(1.0161 1)" font-size="15.948" fill="#000" stroke="#000" stroke-width="0.223">ED50</text>
<text transform="translate(739.78 991.69) scale(1.0173 1)" font-size="15.948" fill="#000" stroke="#000" stroke-width="0.223">ED75</text>
<text transform="translate(739.78 1013.89) scale(1.0161 1)" font-size="15.948" fill="#000" stroke="#000" stroke-width="0.223">ED90</text>
<rect x="522.5" y="1193.75" width="2.5" height="173.1" fill="#000"/>
<rect x="522.5" y="1364.35" width="260.75" height="2.5" fill="#000"/>
<rect x="518.75" y="1257.05" width="5" height="2.4" fill="#000"/>
<rect x="518.75" y="1364.4" width="5" height="2.4" fill="#000"/>
<rect x="522.55" y="1365.6" width="2.4" height="5.5" fill="#000"/>
<rect x="608.8" y="1365.6" width="2.4" height="5.5" fill="#000"/>
<rect x="695.3" y="1365.6" width="2.4" height="5.5" fill="#000"/>
<rect x="781.55" y="1365.6" width="2.4" height="5.5" fill="#000"/>
<line x1="523.75" y1="1236.25" x2="757.25" y2="1365.75" stroke="#1428EE" stroke-width="2.4"/>
<line x1="523.75" y1="1308" x2="610" y2="1365.6" stroke="#2BE236" stroke-width="2.4"/>
<line x1="523.75" y1="1341.75" x2="556.25" y2="1365.5" stroke="#F52A14" stroke-width="2.6"/>
<path d="M518.75 1336.75 L528.75 1346.75 M518.75 1346.75 L528.75 1336.75" stroke="#F52A14" stroke-width="1.9" fill="none"/>
<path d="M526.25 1349.5 L536.25 1359.5 M526.25 1359.5 L536.25 1349.5" stroke="#F52A14" stroke-width="1.9" fill="none"/>
<path d="M551.25 1360.5 L561.25 1370.5 M551.25 1370.5 L561.25 1360.5" stroke="#F52A14" stroke-width="1.9" fill="none"/>
<path d="M518.75 1308 L528.75 1308 M523.75 1303 L523.75 1313" stroke="#2BE236" stroke-width="2" fill="none"/>
<path d="M531.25 1322.5 L541.25 1322.5 M536.25 1317.5 L536.25 1327.5" stroke="#2BE236" stroke-width="2" fill="none"/>
<path d="M605 1365.6 L615 1365.6 M610 1360.6 L610 1370.6" stroke="#2BE236" stroke-width="2" fill="none"/>
<path d="M523.75 1230.35 L529.65 1236.25 L523.75 1242.15 L517.85 1236.25Z" stroke="none" stroke-width="1" fill="#1428EE"/>
<path d="M523.75 1232.35 L527.65 1236.25 L523.75 1240.15 L519.85 1236.25Z" stroke="none" stroke-width="1" fill="#2BE236"/>
<path d="M523.75 1234.95 L525.05 1236.25 L523.75 1237.55 L522.45 1236.25Z" stroke="none" stroke-width="1" fill="#1428EE"/>
<path d="M757.25 1359.85 L763.15 1365.75 L757.25 1371.65 L751.35 1365.75Z" stroke="none" stroke-width="1" fill="#1428EE"/>
<path d="M757.25 1361.85 L761.15 1365.75 L757.25 1369.65 L753.35 1365.75Z" stroke="none" stroke-width="1" fill="#2BE236"/>
<path d="M757.25 1364.45 L758.55 1365.75 L757.25 1367.05 L755.95 1365.75Z" stroke="none" stroke-width="1" fill="#1428EE"/>
<path d="M545 1274.3 L550.2 1279.5 L545 1284.7 L539.8 1279.5Z" stroke="none" stroke-width="1" fill="#1428EE"/>
<path transform="translate(583.72 1208.69) scale(1.0091 1) translate(119.85 0) scale(16.090 -16.090)" d="M.373 0L.373 .688L.315 .688C.29 .63 .2 .585 .109 .541L.109 .459C.17 .49 .24 .525 .283 .568L.283 0Z" fill="#000" stroke="#000" stroke-width="0.0140"/>
<text transform="translate(583.72 1208.69) scale(1.0091 1)" font-size="16.090" fill="#000" stroke="#000" stroke-width="0.225">Isobologram pt # 0</text>
<text transform="translate(492.78 1263.75) scale(0.9865 1)" font-size="14.537" fill="#000" stroke="#000" stroke-width="0.204">500</text>
<text transform="translate(509.06 1370.77) scale(0.9900 1)" font-size="13.845" fill="#000" stroke="#000" stroke-width="0.194">0</text>
<text transform="translate(519.5 1386.77) scale(1.1034 1)" font-size="13.845" fill="#000" stroke="#000" stroke-width="0.194">0</text>
<path transform="translate(597.25 1386.77) scale(1.0595 1) translate(0 0) scale(13.845 -13.845)" d="M.373 0L.373 .688L.315 .688C.29 .63 .2 .585 .109 .541L.109 .459C.17 .49 .24 .525 .283 .568L.283 0Z" fill="#000" stroke="#000" stroke-width="0.0140"/>
<text transform="translate(597.25 1386.77) scale(1.0595 1)" font-size="13.845" fill="#000" stroke="#000" stroke-width="0.194"> 00</text>
<text transform="translate(684.64 1386.77) scale(1.0201 1)" font-size="13.845" fill="#000" stroke="#000" stroke-width="0.194">200</text>
<text transform="translate(770.57 1386.77) scale(1.0123 1)" font-size="13.845" fill="#000" stroke="#000" stroke-width="0.194">300</text>
<text transform="translate(486.08 1295.43) rotate(-90) scale(0.9483 1)" font-size="17.372" fill="#000" stroke="#000" stroke-width="0.243">BRB</text>
<path transform="translate(621.58 1412.39) scale(0.9975 1) translate(36.49 0) scale(16.019 -16.019)" d="M.373 0L.373 .688L.315 .688C.29 .63 .2 .585 .109 .541L.109 .459C.17 .49 .24 .525 .283 .568L.283 0Z" fill="#000" stroke="#000" stroke-width="0.0140"/>
<text transform="translate(621.58 1412.39) scale(0.9975 1)" font-size="16.019" fill="#000" stroke="#000" stroke-width="0.224">ABT- 99</text>
<line x1="687.75" y1="1236.25" x2="708.25" y2="1236.25" stroke="#F52A14" stroke-width="2"/>
<path d="M693.75 1231.75 L702.75 1240.75 M693.75 1240.75 L702.75 1231.75" stroke="#F52A14" stroke-width="1.8" fill="none"/>
<line x1="687.75" y1="1260.5" x2="708.25" y2="1260.5" stroke="#2BE236" stroke-width="2"/>
<line x1="698.25" y1="1255.5" x2="698.25" y2="1265.5" stroke="#2BE236" stroke-width="1.6"/>
<line x1="687.75" y1="1285.5" x2="708.25" y2="1285.5" stroke="#1428EE" stroke-width="2"/>
<path d="M698.25 1279.3 L704.45 1285.5 L698.25 1291.7 L692.05 1285.5Z" stroke="none" stroke-width="1" fill="#1428EE"/>
<text transform="translate(717.67 1241.89) scale(1.0292 1)" font-size="15.948" fill="#000" stroke="#000" stroke-width="0.223">ED50</text>
<text transform="translate(717.66 1265.79) scale(1.0590 1)" font-size="15.521" fill="#000" stroke="#000" stroke-width="0.217">ED75</text>
<text transform="translate(717.67 1290.49) scale(1.0481 1)" font-size="15.663" fill="#000" stroke="#000" stroke-width="0.219">ED90</text>
<text transform="translate(88.28 1556.19) scale(0.9562 1)" font-size="67.372" fill="#000" stroke="#000" stroke-width="0.300">C</text>
<rect x="293.1" y="1474.5" width="3" height="285.6" fill="#000"/>
<rect x="285.5" y="1474.7" width="9.1" height="2.8" fill="#000"/>
<rect x="285.5" y="1568.9" width="9.1" height="2.8" fill="#000"/>
<rect x="285.5" y="1663.1" width="9.1" height="2.8" fill="#000"/>
<rect x="285.5" y="1757.2" width="9.1" height="2.8" fill="#000"/>
<path transform="translate(257.92 1483.35) scale(0.9796 1) translate(0 0) scale(20.925 -20.925)" d="M.373 0L.373 .688L.315 .688C.29 .63 .2 .585 .109 .541L.109 .459C.17 .49 .24 .525 .283 .568L.283 0Z" fill="#000" stroke="#000" stroke-width="0.0140"/>
<text transform="translate(257.92 1483.35) scale(0.9796 1)" font-size="20.925" fill="#000" stroke="#000" stroke-width="0.293"> .5</text>
<path transform="translate(257.92 1577.45) scale(0.9848 1) translate(0 0) scale(20.767 -20.767)" d="M.373 0L.373 .688L.315 .688C.29 .63 .2 .585 .109 .541L.109 .459C.17 .49 .24 .525 .283 .568L.283 0Z" fill="#000" stroke="#000" stroke-width="0.0140"/>
<text transform="translate(257.92 1577.45) scale(0.9848 1)" font-size="20.767" fill="#000" stroke="#000" stroke-width="0.291"> .0</text>
<text transform="translate(258.15 1671.05) scale(0.9919 1)" font-size="20.490" fill="#000" stroke="#000" stroke-width="0.287">0.5</text>
<text transform="translate(258.16 1765.44) scale(0.9634 1)" font-size="21.044" fill="#000" stroke="#000" stroke-width="0.295">0.0</text>
<line x1="297.1" y1="1549.4" x2="699.3" y2="1549.4" stroke="#000" stroke-width="4" stroke-linecap="round" stroke-dasharray="0 8.207"/>
<line x1="339.05" y1="1607.5" x2="339.05" y2="1596.2" stroke="#000" stroke-width="2.5"/>
<line x1="327.55" y1="1596.2" x2="350.55" y2="1596.2" stroke="#000" stroke-width="2.5"/>
<line x1="383.65" y1="1616.8" x2="383.65" y2="1605.5" stroke="#000" stroke-width="2.5"/>
<line x1="372.15" y1="1605.5" x2="395.15" y2="1605.5" stroke="#000" stroke-width="2.5"/>
<rect x="316.75" y="1607.5" width="44.6" height="151.1" fill="#E7E5EC" stroke="#000" stroke-width="2.5"/>
<rect x="361.35" y="1616.8" width="44.6" height="141.8" fill="#A2A0A5" stroke="#000" stroke-width="2.5"/>
<line x1="473.3" y1="1582.3" x2="473.3" y2="1569.5" stroke="#000" stroke-width="2.5"/>
<line x1="461.8" y1="1569.5" x2="484.8" y2="1569.5" stroke="#000" stroke-width="2.5"/>
<line x1="517.9" y1="1605.1" x2="517.9" y2="1590.9" stroke="#000" stroke-width="2.5"/>
<line x1="506.4" y1="1590.9" x2="529.4" y2="1590.9" stroke="#000" stroke-width="2.5"/>
<rect x="451" y="1582.3" width="44.6" height="176.3" fill="#E7E5EC" stroke="#000" stroke-width="2.5"/>
<rect x="495.6" y="1605.1" width="44.6" height="153.5" fill="#A2A0A5" stroke="#000" stroke-width="2.5"/>
<line x1="607.5" y1="1614.3" x2="607.5" y2="1600.8" stroke="#000" stroke-width="2.5"/>
<line x1="596" y1="1600.8" x2="619" y2="1600.8" stroke="#000" stroke-width="2.5"/>
<line x1="652.1" y1="1606.6" x2="652.1" y2="1597.6" stroke="#000" stroke-width="2.5"/>
<line x1="640.6" y1="1597.6" x2="663.6" y2="1597.6" stroke="#000" stroke-width="2.5"/>
<rect x="585.2" y="1614.3" width="44.6" height="144.3" fill="#E7E5EC" stroke="#000" stroke-width="2.5"/>
<rect x="629.8" y="1606.6" width="44.6" height="152" fill="#A2A0A5" stroke="#000" stroke-width="2.5"/>
<line x1="299" y1="1592.3" x2="701.3" y2="1592.3" stroke="#000" stroke-width="4" stroke-linecap="round" stroke-dasharray="0 8.209"/>
<rect x="293.1" y="1757.1" width="404.1" height="3" fill="#000"/>
<rect x="359.5" y="1758.6" width="3" height="7.65" fill="#000"/>
<rect x="493.75" y="1758.6" width="3" height="7.65" fill="#000"/>
<rect x="628.25" y="1758.6" width="3" height="7.65" fill="#000"/>
<text transform="translate(349.86 1792.94) scale(0.9463 1)" font-size="21.183" fill="#000" stroke="#000" stroke-width="0.297"># 3</text>
<text transform="translate(484.56 1792.94) scale(0.9346 1)" font-size="21.183" fill="#000" stroke="#000" stroke-width="0.297"># 9</text>
<path transform="translate(612.36 1792.94) scale(0.9650 1) translate(17.67 0) scale(21.183 -21.183)" d="M.373 0L.373 .688L.315 .688C.29 .63 .2 .585 .109 .541L.109 .459C.17 .49 .24 .525 .283 .568L.283 0Z" fill="#000" stroke="#000" stroke-width="0.0140"/>
<text transform="translate(612.36 1792.94) scale(0.9650 1)" font-size="21.183" fill="#000" stroke="#000" stroke-width="0.297">#  0</text>
<text transform="translate(464.65 1824.23) scale(0.9376 1)" font-size="23.637" fill="#000" stroke="#000" stroke-width="0.331">Patients</text>
<text transform="translate(246.75 1742.58) rotate(-90) scale(0.9342 1)" font-size="26.854" fill="#000" stroke="#000" stroke-width="0.376">Combination Index (CI)</text>
<rect x="549" y="1473.5" width="21.75" height="16" fill="#E7E5EC" stroke="#000" stroke-width="2"/>
<rect x="549" y="1506.5" width="21.75" height="15.5" fill="#A2A0A5" stroke="#000" stroke-width="2"/>
<text transform="translate(582.16 1489.34) scale(0.9527 1)" font-size="22.427" fill="#000" stroke="#000" stroke-width="0.314">LC75</text>
<text transform="translate(582.16 1522.12) scale(0.9485 1)" font-size="22.498" fill="#000" stroke="#000" stroke-width="0.315">LC90</text>
<text transform="translate(92.82 1910.6) scale(0.9827 1)" font-size="66.062" fill="#000" stroke="#000" stroke-width="0.300">D</text>
<rect x="293.2" y="1915" width="3" height="310.75" fill="#000"/>
<rect x="289.5" y="2222.85" width="5.2" height="2.8" fill="#000"/>
<rect x="289.5" y="2161.25" width="5.2" height="2.8" fill="#000"/>
<rect x="289.5" y="2099.65" width="5.2" height="2.8" fill="#000"/>
<rect x="289.5" y="2038.05" width="5.2" height="2.8" fill="#000"/>
<rect x="289.5" y="1976.45" width="5.2" height="2.8" fill="#000"/>
<rect x="289.5" y="1914.85" width="5.2" height="2.8" fill="#000"/>
<text transform="translate(273.31 2231.88) scale(0.9869 1)" font-size="22.013" fill="#000" stroke="#000" stroke-width="0.308">0</text>
<text transform="translate(273.01 2170.49) scale(1.0212 1)" font-size="22.315" fill="#000" stroke="#000" stroke-width="0.312">2</text>
<text transform="translate(273.69 2108.89) scale(0.9095 1)" font-size="22.641" fill="#000" stroke="#000" stroke-width="0.317">4</text>
<text transform="translate(273.01 2047.08) scale(1.0225 1)" font-size="22.013" fill="#000" stroke="#000" stroke-width="0.308">6</text>
<text transform="translate(273.2 1985.48) scale(1.0054 1)" font-size="22.013" fill="#000" stroke="#000" stroke-width="0.308">8</text>
<path transform="translate(260.96 1924.08) scale(1.0045 1) translate(0 0) scale(21.875 -21.875)" d="M.373 0L.373 .688L.315 .688C.29 .63 .2 .585 .109 .541L.109 .459C.17 .49 .24 .525 .283 .568L.283 0Z" fill="#000" stroke="#000" stroke-width="0.0140"/>
<text transform="translate(260.96 1924.08) scale(1.0045 1)" font-size="21.875" fill="#000" stroke="#000" stroke-width="0.306"> 0</text>
<line x1="344.4" y1="2047" x2="344.4" y2="2027.5" stroke="#000" stroke-width="2.5"/>
<line x1="331.65" y1="2027.5" x2="357.15" y2="2027.5" stroke="#000" stroke-width="2.5"/>
<line x1="391.6" y1="2000.6" x2="391.6" y2="1978.1" stroke="#000" stroke-width="2.5"/>
<line x1="378.85" y1="1978.1" x2="404.35" y2="1978.1" stroke="#000" stroke-width="2.5"/>
<rect x="320.8" y="2047" width="47.2" height="177.25" fill="#E7E5EC" stroke="#000" stroke-width="2.5"/>
<rect x="368" y="2000.6" width="47.2" height="223.65" fill="#A2A0A5" stroke="#000" stroke-width="2.5"/>
<line x1="490.3" y1="2152.3" x2="490.3" y2="2125.5" stroke="#000" stroke-width="2.5"/>
<line x1="477.55" y1="2125.5" x2="503.05" y2="2125.5" stroke="#000" stroke-width="2.5"/>
<line x1="537.5" y1="2090.6" x2="537.5" y2="2070" stroke="#000" stroke-width="2.5"/>
<line x1="524.75" y1="2070" x2="550.25" y2="2070" stroke="#000" stroke-width="2.5"/>
<rect x="466.7" y="2152.3" width="47.2" height="71.95" fill="#E7E5EC" stroke="#000" stroke-width="2.5"/>
<rect x="513.9" y="2090.6" width="47.2" height="133.65" fill="#A2A0A5" stroke="#000" stroke-width="2.5"/>
<line x1="636.7" y1="2081.9" x2="636.7" y2="2052" stroke="#000" stroke-width="2.5"/>
<line x1="623.95" y1="2052" x2="649.45" y2="2052" stroke="#000" stroke-width="2.5"/>
<line x1="683.9" y1="1992.3" x2="683.9" y2="1975" stroke="#000" stroke-width="2.5"/>
<line x1="671.15" y1="1975" x2="696.65" y2="1975" stroke="#000" stroke-width="2.5"/>
<rect x="613.1" y="2081.9" width="47.2" height="142.35" fill="#E7E5EC" stroke="#000" stroke-width="2.5"/>
<rect x="660.3" y="1992.3" width="47.2" height="231.95" fill="#A2A0A5" stroke="#000" stroke-width="2.5"/>
<rect x="293.2" y="2222.75" width="440.4" height="3" fill="#000"/>
<rect x="365.75" y="2224.25" width="3" height="5.25" fill="#000"/>
<rect x="512.25" y="2224.25" width="3" height="5.25" fill="#000"/>
<rect x="658.75" y="2224.25" width="3" height="5.25" fill="#000"/>
<text transform="translate(355.07 2261.61) scale(0.9564 1)" font-size="23.121" fill="#000" stroke="#000" stroke-width="0.324"># 3</text>
<text transform="translate(501.57 2261.61) scale(0.9588 1)" font-size="23.121" fill="#000" stroke="#000" stroke-width="0.324"># 9</text>
<path transform="translate(641.77 2261.61) scale(0.9494 1) translate(19.28 0) scale(23.121 -23.121)" d="M.373 0L.373 .688L.315 .688C.29 .63 .2 .585 .109 .541L.109 .459C.17 .49 .24 .525 .283 .568L.283 0Z" fill="#000" stroke="#000" stroke-width="0.0140"/>
<text transform="translate(641.77 2261.61) scale(0.9494 1)" font-size="23.121" fill="#000" stroke="#000" stroke-width="0.324">#  0</text>
<text transform="translate(480.49 2296.62) scale(0.9534 1)" font-size="25.488" fill="#000" stroke="#000" stroke-width="0.357">Patients</text>
<path transform="translate(246 2296.6) rotate(-90) scale(0.9693 1) translate(63.82 0) scale(28.017 -28.017)" d="M.373 0L.373 .688L.315 .688C.29 .63 .2 .585 .109 .541L.109 .459C.17 .49 .24 .525 .283 .568L.283 0Z" fill="#000" stroke="#000" stroke-width="0.0140"/>
<text transform="translate(246 2296.6) rotate(-90) scale(0.9693 1)" font-size="28.017" fill="#000" stroke="#000" stroke-width="0.392">ABT- 99 Dose Reduction Index (DRI)</text>
<rect x="571.75" y="1913.5" width="23.5" height="16.75" fill="#E7E5EC" stroke="#000" stroke-width="2"/>
<rect x="571.75" y="1948.5" width="23.5" height="16.75" fill="#A2A0A5" stroke="#000" stroke-width="2"/>
<text transform="translate(608.26 1930.33) scale(0.9741 1)" font-size="23.851" fill="#000" stroke="#000" stroke-width="0.334">LC75</text>
<text transform="translate(608.27 1965.1) scale(0.9715 1)" font-size="23.882" fill="#000" stroke="#000" stroke-width="0.334">LC90</text>
</svg>
</body></html>
